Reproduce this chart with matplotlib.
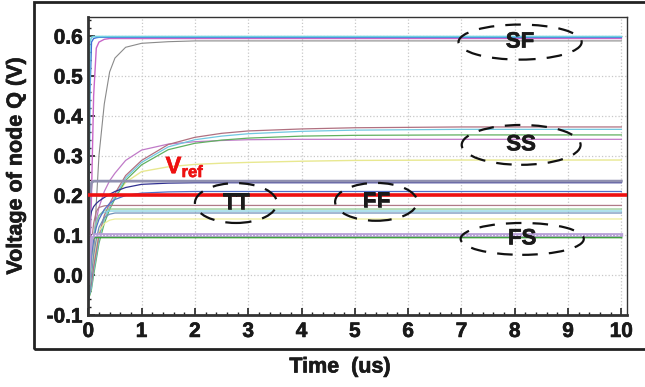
import matplotlib
matplotlib.use("Agg")
import matplotlib.pyplot as plt
import matplotlib.patheffects as pe
from matplotlib.patches import Ellipse, Rectangle
from matplotlib.ticker import MultipleLocator

plt.rcParams['font.family'] = ['Liberation Sans', 'DejaVu Sans']
plt.rcParams['font.weight'] = 'bold'
plt.rcParams['mathtext.fontset'] = 'custom'
plt.rcParams['mathtext.bf'] = 'Liberation Sans:bold'
plt.rcParams['mathtext.rm'] = 'Liberation Sans:bold'

# ---- data (time in us, voltage in V) ----
t_us = [0, 0.03, 0.06, 0.1, 0.15, 0.2, 0.3, 0.4, 0.5, 0.7, 1.0, 1.5, 2.0, 2.5, 3.0, 4.0, 5.0, 7.0, 10.0]

# SF corner
sf_cyan = [-0.08, 0.585, 0.597, 0.599, 0.599, 0.599, 0.599, 0.599, 0.599, 0.599, 0.599, 0.599, 0.599, 0.599, 0.599, 0.599, 0.599, 0.599, 0.599]
sf_blue = [-0.05, 0.45, 0.585, 0.594, 0.596, 0.597, 0.597, 0.597, 0.597, 0.597, 0.597, 0.597, 0.597, 0.597, 0.597, 0.597, 0.597, 0.597, 0.597]
sf_pink = [-0.05, 0.05, 0.2, 0.45, 0.57, 0.585, 0.592, 0.594, 0.594, 0.594, 0.594, 0.594, 0.594, 0.594, 0.594, 0.594, 0.594, 0.594, 0.594]
sf_gray = [-0.05, -0.03, 0.0, 0.05, 0.18, 0.3, 0.43, 0.51, 0.545, 0.572, 0.582, 0.586, 0.588, 0.588, 0.588, 0.588, 0.588, 0.588, 0.588]

# SS corner
ss_brown = [-0.05, -0.04, -0.02, 0.02, 0.06, 0.1, 0.15, 0.18, 0.205, 0.25, 0.288, 0.328, 0.346, 0.356, 0.362, 0.367, 0.37, 0.372, 0.372]
ss_cyan = [-0.05, -0.045, -0.03, 0.01, 0.05, 0.09, 0.14, 0.17, 0.197, 0.244, 0.283, 0.322, 0.34, 0.349, 0.355, 0.361, 0.364, 0.366, 0.366]
ss_green = [-0.06, -0.05, -0.035, 0.0, 0.04, 0.08, 0.13, 0.165, 0.192, 0.238, 0.277, 0.315, 0.331, 0.339, 0.344, 0.349, 0.351, 0.352, 0.352]
ss_purple = [-0.03, 0.0, 0.04, 0.09, 0.14, 0.17, 0.21, 0.237, 0.256, 0.288, 0.314, 0.329, 0.335, 0.338, 0.34, 0.341, 0.341, 0.341, 0.341]
ss_yellow = [-0.04, -0.03, -0.01, 0.03, 0.07, 0.1, 0.14, 0.17, 0.195, 0.233, 0.26, 0.272, 0.278, 0.281, 0.283, 0.286, 0.288, 0.289, 0.289]

# TT / FF corners
tt_gray = [0.0, 0.2, 0.232, 0.236, 0.236, 0.236, 0.236, 0.236, 0.236, 0.236, 0.236, 0.236, 0.236, 0.236, 0.236, 0.236, 0.236, 0.236, 0.236]
tt_navy = [0.1, 0.14, 0.16, 0.172, 0.18, 0.186, 0.195, 0.203, 0.21, 0.22, 0.228, 0.231, 0.232, 0.232, 0.232, 0.232, 0.232, 0.232, 0.232]
tt_blue = [-0.05, 0.0, 0.05, 0.09, 0.12, 0.14, 0.165, 0.18, 0.19, 0.2, 0.206, 0.209, 0.21, 0.21, 0.21, 0.21, 0.21, 0.21, 0.21]
tt_brown = [-0.05, 0.02, 0.08, 0.13, 0.16, 0.17, 0.174, 0.175, 0.175, 0.175, 0.175, 0.175, 0.175, 0.175, 0.175, 0.175, 0.175, 0.175, 0.175]
tt_green = [-0.06, -0.02, 0.04, 0.09, 0.13, 0.15, 0.163, 0.166, 0.166, 0.166, 0.166, 0.166, 0.166, 0.166, 0.166, 0.166, 0.166, 0.166, 0.166]
tt_cyan = [-0.05, -0.01, 0.05, 0.1, 0.135, 0.15, 0.158, 0.161, 0.161, 0.161, 0.161, 0.161, 0.161, 0.161, 0.161, 0.161, 0.161, 0.161, 0.161]
tt_steel = [-0.07, -0.04, 0.0, 0.05, 0.09, 0.12, 0.145, 0.153, 0.156, 0.156, 0.156, 0.156, 0.156, 0.156, 0.156, 0.156, 0.156, 0.156, 0.156]
tt_yellow = [-0.05, -0.03, 0.01, 0.05, 0.09, 0.11, 0.13, 0.138, 0.141, 0.141, 0.141, 0.141, 0.141, 0.141, 0.141, 0.141, 0.141, 0.141, 0.141]

# FS corner
fs_lilac = [-0.02, 0.06, 0.09, 0.1, 0.101, 0.101, 0.101, 0.101, 0.101, 0.101, 0.101, 0.101, 0.101, 0.101, 0.101, 0.101, 0.101, 0.101, 0.101]
fs_green = [-0.03, 0.05, 0.085, 0.094, 0.095, 0.095, 0.095, 0.095, 0.095, 0.095, 0.095, 0.095, 0.095, 0.095, 0.095, 0.095, 0.095, 0.095, 0.095]

v_ref = 0.202

corner_labels = ['SF', 'SS', 'TT', 'FF', 'FS']
corner_x = [8.1, 8.12, 2.77, 5.4, 8.14]
corner_y = [0.585, 0.327, 0.181, 0.184, 0.091]
corner_w = [2.31, 2.23, 1.54, 1.54, 2.31]
corner_h = [0.088, 0.1, 0.1, 0.095, 0.08]

x_ticks = [0, 1, 2, 3, 4, 5, 6, 7, 8, 9, 10]
y_ticks = [-0.1, 0.0, 0.1, 0.2, 0.3, 0.4, 0.5, 0.6]

# ---- figure ----
heavy = [pe.withStroke(linewidth=0.45, foreground='#1a1a1a')]
fig = plt.figure(figsize=(6.45, 3.87), dpi=100)
ax = fig.add_axes([88.3 / 645, 1 - 315 / 387, (626.7 - 88.3) / 645, (315 - 17) / 387])

series = [
    (sf_gray, '#8a8a8a', 0.8), (sf_pink, '#c866c8', 1.0), (sf_blue, '#3f6fd8', 1.0), (sf_cyan, '#70d0e0', 1.2),
    (ss_yellow, '#e8e890', 1.0), (ss_purple, '#c07ac8', 0.9), (ss_green, '#60b060', 0.9),
    (ss_cyan, '#70c8e0', 0.9), (ss_brown, '#b07080', 0.9),
    (tt_yellow, '#eeee9a', 0.9), (tt_steel, '#6f90b8', 0.9), (tt_cyan, '#80d0e0', 0.9),
    (tt_green, '#90c890', 0.9), (tt_brown, '#b07a88', 0.9), (tt_blue, '#5070c8', 0.9),
    (tt_navy, '#303090', 0.9), (tt_gray, '#9090b0', 2.0),
    (fs_green, '#40a040', 1.5), (fs_lilac, '#b8a0d8', 2.6),
]
for vals, col, lw in series:
    ax.plot(t_us, vals, color=col, lw=lw, zorder=2)
ax.plot([0, 10.0], [0.101, 0.101], color='white', lw=0.8, ls=(0, (1, 2)), zorder=2.1)
ax.axhline(v_ref, color='#ee1111', lw=2.6, zorder=3)

for lab, cx, cy, w, h in zip(corner_labels, corner_x, corner_y, corner_w, corner_h):
    ax.add_patch(Ellipse((cx, cy), w, h, fill=False, ec='#111111', lw=1.6,
                         ls=(0, (7, 5)), zorder=4))
    ax.text(cx, cy, lab, ha='center', va='center', fontsize=16, fontweight='bold',
            color='#1a1a1a', zorder=5, path_effects=heavy)

ax.text(1.45, 0.272, r'$\mathbf{V}_{\mathbf{ref}}$', color='#ee1111', fontsize=17,
        ha='left', va='center', zorder=5,
        path_effects=[pe.withStroke(linewidth=0.45, foreground='#ee1111')])

ax.set_xlim(0, 10.1)
ax.set_ylim(-0.1, 0.648)
ax.set_xticks(x_ticks)
ax.set_yticks(y_ticks)
ax.set_xticklabels([str(v) for v in x_ticks])
ax.set_yticklabels(['%.1f' % v for v in y_ticks])
ax.xaxis.set_minor_locator(MultipleLocator(0.2))
ax.yaxis.set_minor_locator(MultipleLocator(0.02))
ax.tick_params(axis='both', which='major', direction='in', length=5, width=1.2,
               color='#222222', labelcolor='#1a1a1a')
ax.tick_params(axis='both', which='minor', direction='in', length=2.5, width=1,
               color='#222222')
ax.tick_params(axis='x', labelsize=15, pad=5)
ax.tick_params(axis='y', labelsize=15, pad=4)
ax.tick_params(top=False, right=False, which='both')
for lbl in ax.get_xticklabels() + ax.get_yticklabels():
    lbl.set_fontweight('bold')
    lbl.set_path_effects(heavy)

ax.grid(True, which='major', color='#c8c8c8', ls=':', lw=0.9, zorder=0)
ax.set_axisbelow(True)
for s in ['left', 'bottom']:
    ax.spines[s].set_linewidth(2.0)
    ax.spines[s].set_color('#333333')
for s in ['top', 'right']:
    ax.spines[s].set_linewidth(1.0)
    ax.spines[s].set_color('#333333')

# outer frame
fig.patches.append(Rectangle((34 / 645, 1 - 349 / 387), 1.0, (349 - 2) / 387,
                             transform=fig.transFigure, fill=False, ec='#222222',
                             lw=2.0, zorder=10))

fig.text(16 / 645, 1 - 166 / 387, 'Voltage of node Q (V)', rotation=90, ha='center',
         va='center', fontsize=15.5, fontweight='bold', color='#1a1a1a', path_effects=heavy)
fig.text(340 / 645, 1 - 367 / 387, 'Time  (us)', ha='center', va='center',
         fontsize=15.5, fontweight='bold', color='#1a1a1a', path_effects=heavy)

fig.savefig('out.png', dpi=100)
